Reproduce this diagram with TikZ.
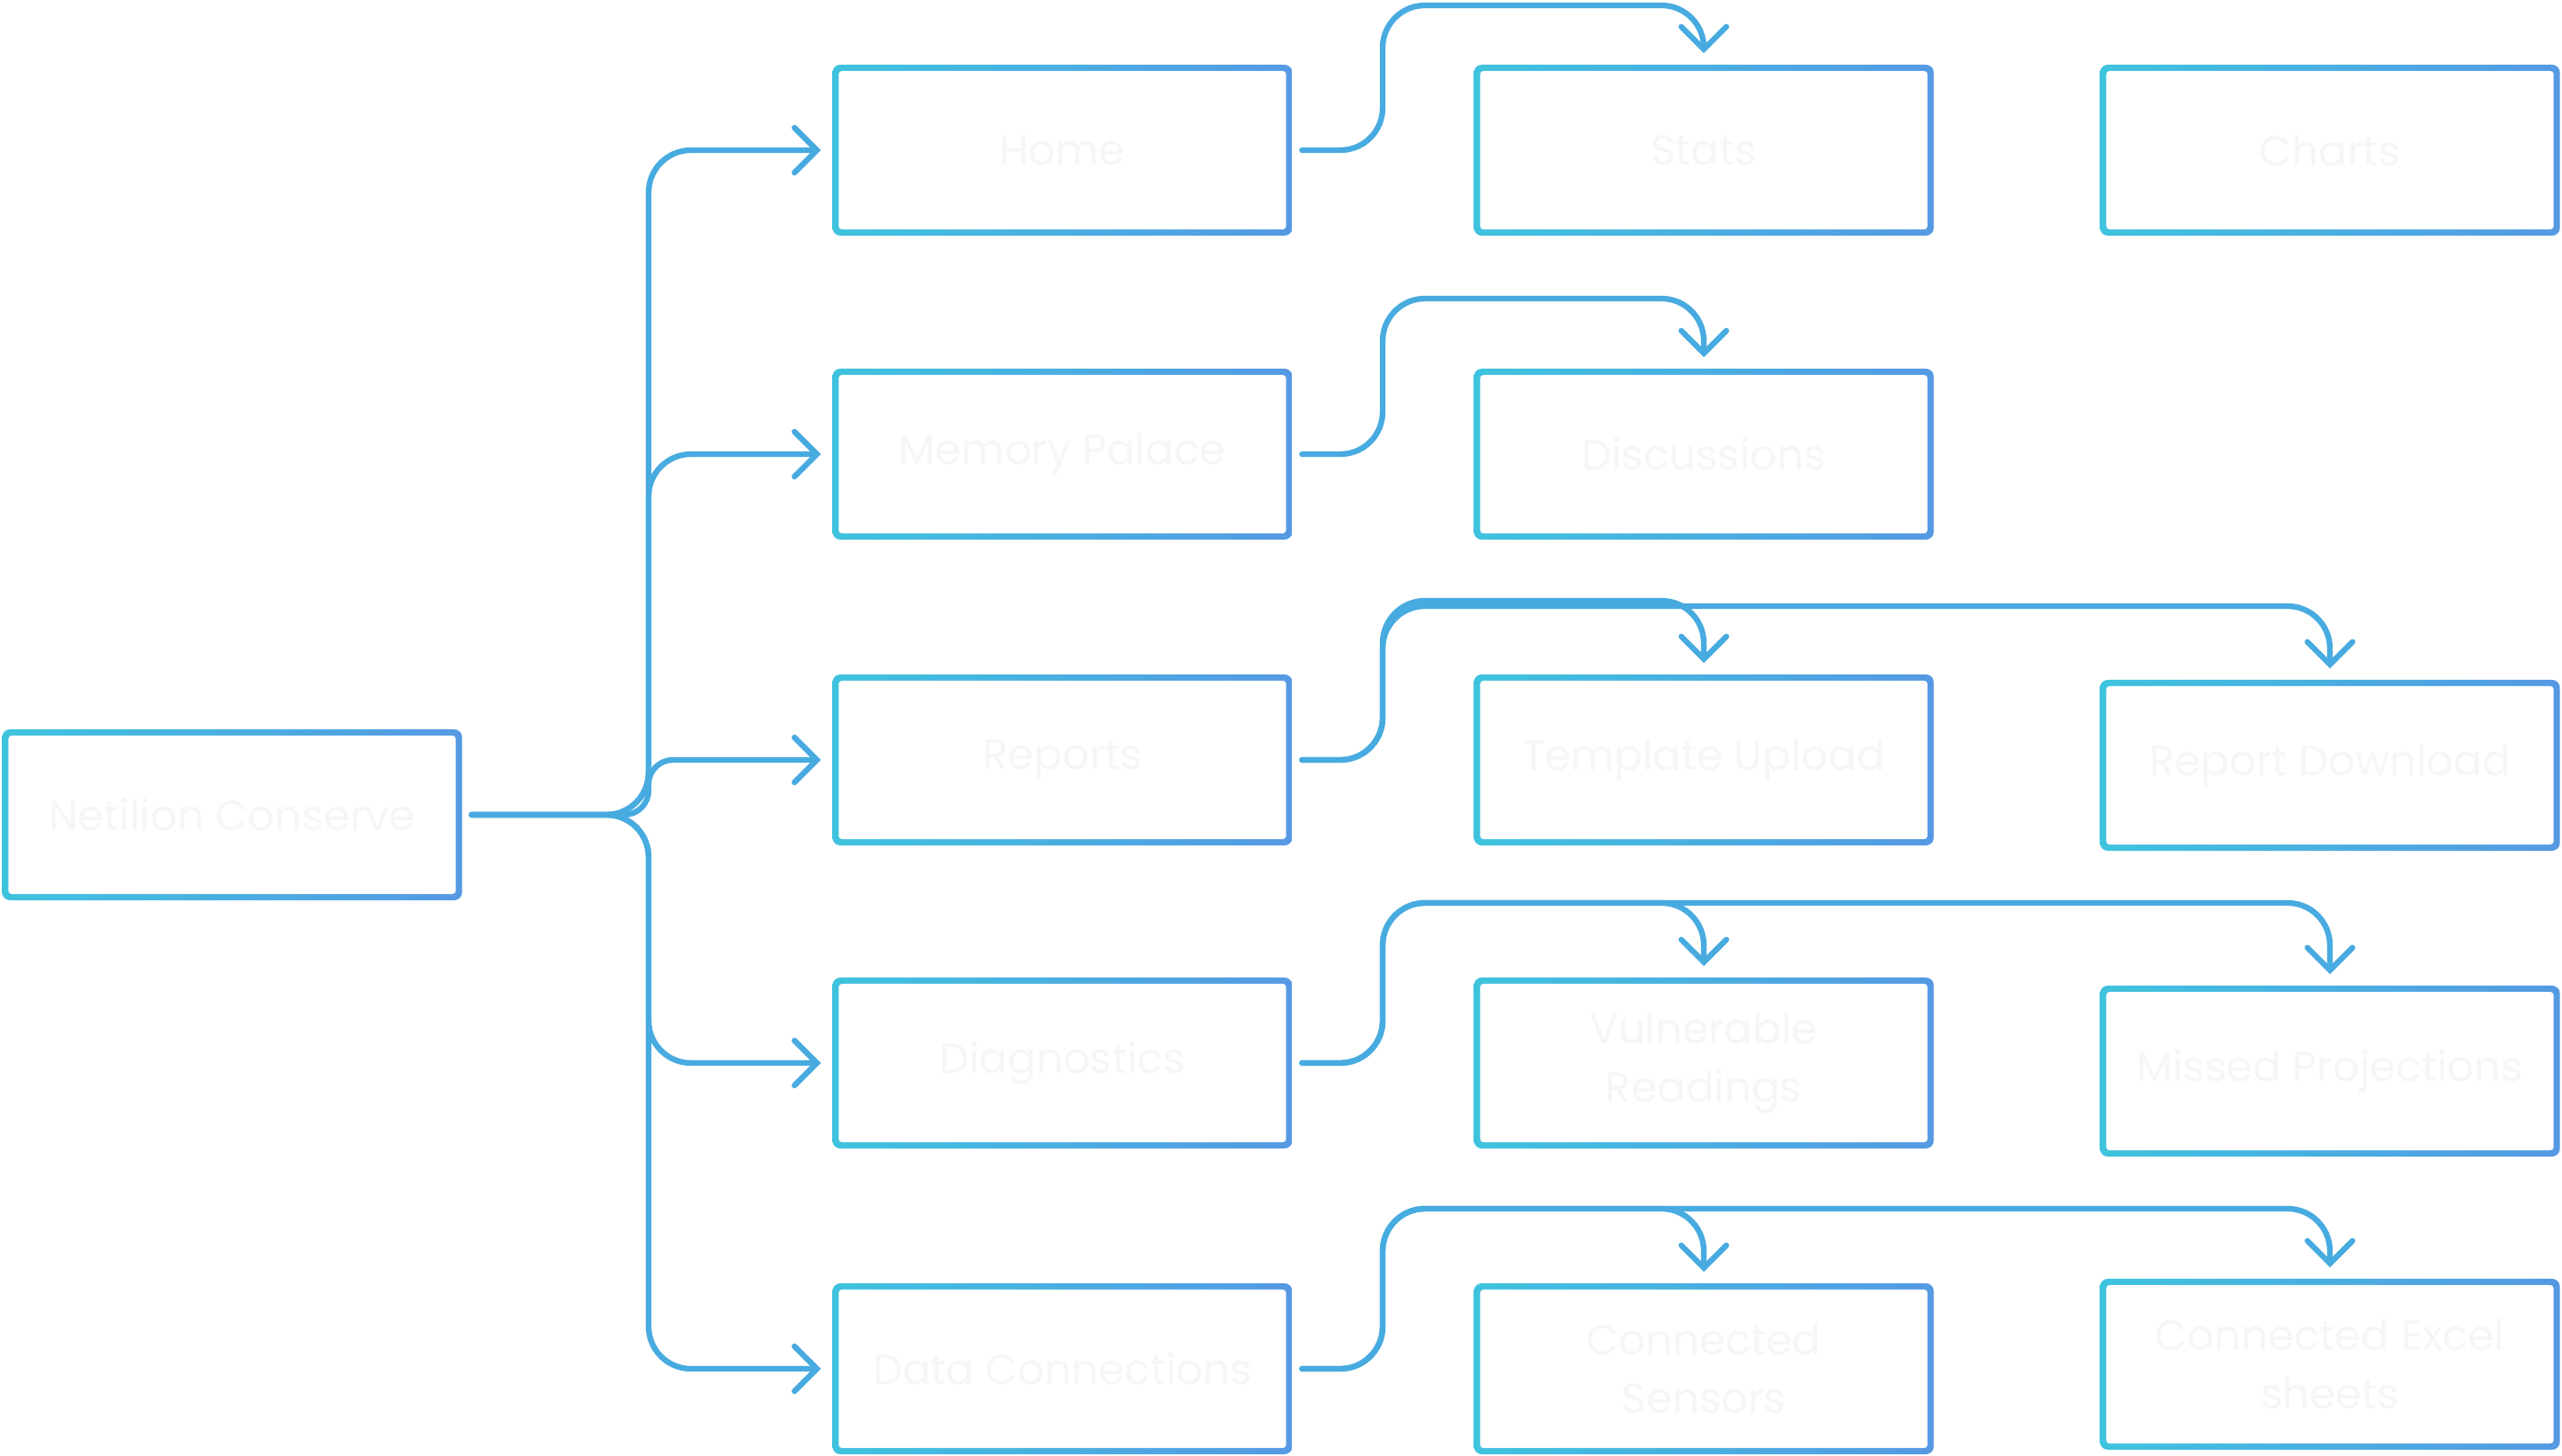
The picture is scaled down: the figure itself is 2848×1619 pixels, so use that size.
\documentclass[tikz,border=0pt]{standalone}
\usepackage{fontspec}
\setmainfont{Poppins}
\usetikzlibrary{arrows.meta, positioning}
\definecolor{ConserveCyan}{HTML}{3EC3DE}
\definecolor{ConserveBlue}{HTML}{5599E3}
\definecolor{ConserveLine}{HTML}{48ABE0}
\definecolor{ConserveText}{HTML}{F6F6F6}
\tikzset{
  box/.style={rounded corners=2.5pt, minimum width=5.11cm, minimum height=1.9cm,
    align=center, text=ConserveText, font=\fontsize{13.3}{18.5}\selectfont,
    left color=ConserveCyan, right color=ConserveBlue,
    path picture={\fill[white, rounded corners=1pt]
      ([shift={(2pt,-2pt)}]path picture bounding box.north west) rectangle
      ([shift={(-2pt,2pt)}]path picture bounding box.south east);}},
  link/.style={ConserveLine, line width=1.8pt, line cap=round, line join=round,
    rounded corners=0.47cm, shorten <=0.1cm, shorten >=0.12cm,
    -{Straight Barb[length=0.25cm, width=0.5cm, line cap=round]}},
}

\begin{document}
\begin{tikzpicture}[x=0.01cm, y=-0.01cm]
    \useasboundingbox (0,0) rectangle (2848,1619);

    % Root
    \node[box] (root) at (258,906) {Netilion Conserve};
    \coordinate (trunk) at (721,906);

    % Sections
    \node[box] (home)    at (1181,167)  {Home};
    \node[box] (memory)  at (1181,505)  {Memory Palace};
    \node[box] (reports) at (1181,845)  {Reports};
    \node[box] (diag)    at (1181,1182) {Diagnostics};
    \node[box] (data)    at (1181,1522) {Data Connections};

    % Pages
    \node[box] (stats)    at (1894,167)  {Stats};
    \node[box] (discuss)  at (1894,505)  {Discussions};
    \node[box] (upload)   at (1894,845)  {Template Upload};
    \node[box] (vuln)     at (1894,1182) {Vulnerable\\Readings};
    \node[box] (sensors)  at (1894,1522) {Connected\\Sensors};
    \node[box] (charts)   at (2590,167)  {Charts};
    \node[box] (download) at (2590,851)  {Report Download};
    \node[box] (missed)   at (2590,1191) {Missed Projections};
    \node[box] (excel)    at (2590,1517) {Connected Excel\\sheets};

    % Root to sections
    \foreach \dst/\r in {home/0.47cm, memory/0.47cm, reports/0.27cm, diag/0.47cm, data/0.47cm}
        \draw[link, rounded corners=\r] (root.east) -| (trunk |- \dst.west) -- (\dst.west);

    % Sections to pages
    \foreach \src/\dst/\lane in {home/stats/6, memory/discuss/332, reports/upload/668,
        reports/download/674, diag/vuln/1004, diag/missed/1004, data/sensors/1344, data/excel/1344}
        \draw[link] (\src.east) -| (1537,\lane) -| (\dst.north);

\end{tikzpicture}
\end{document}
